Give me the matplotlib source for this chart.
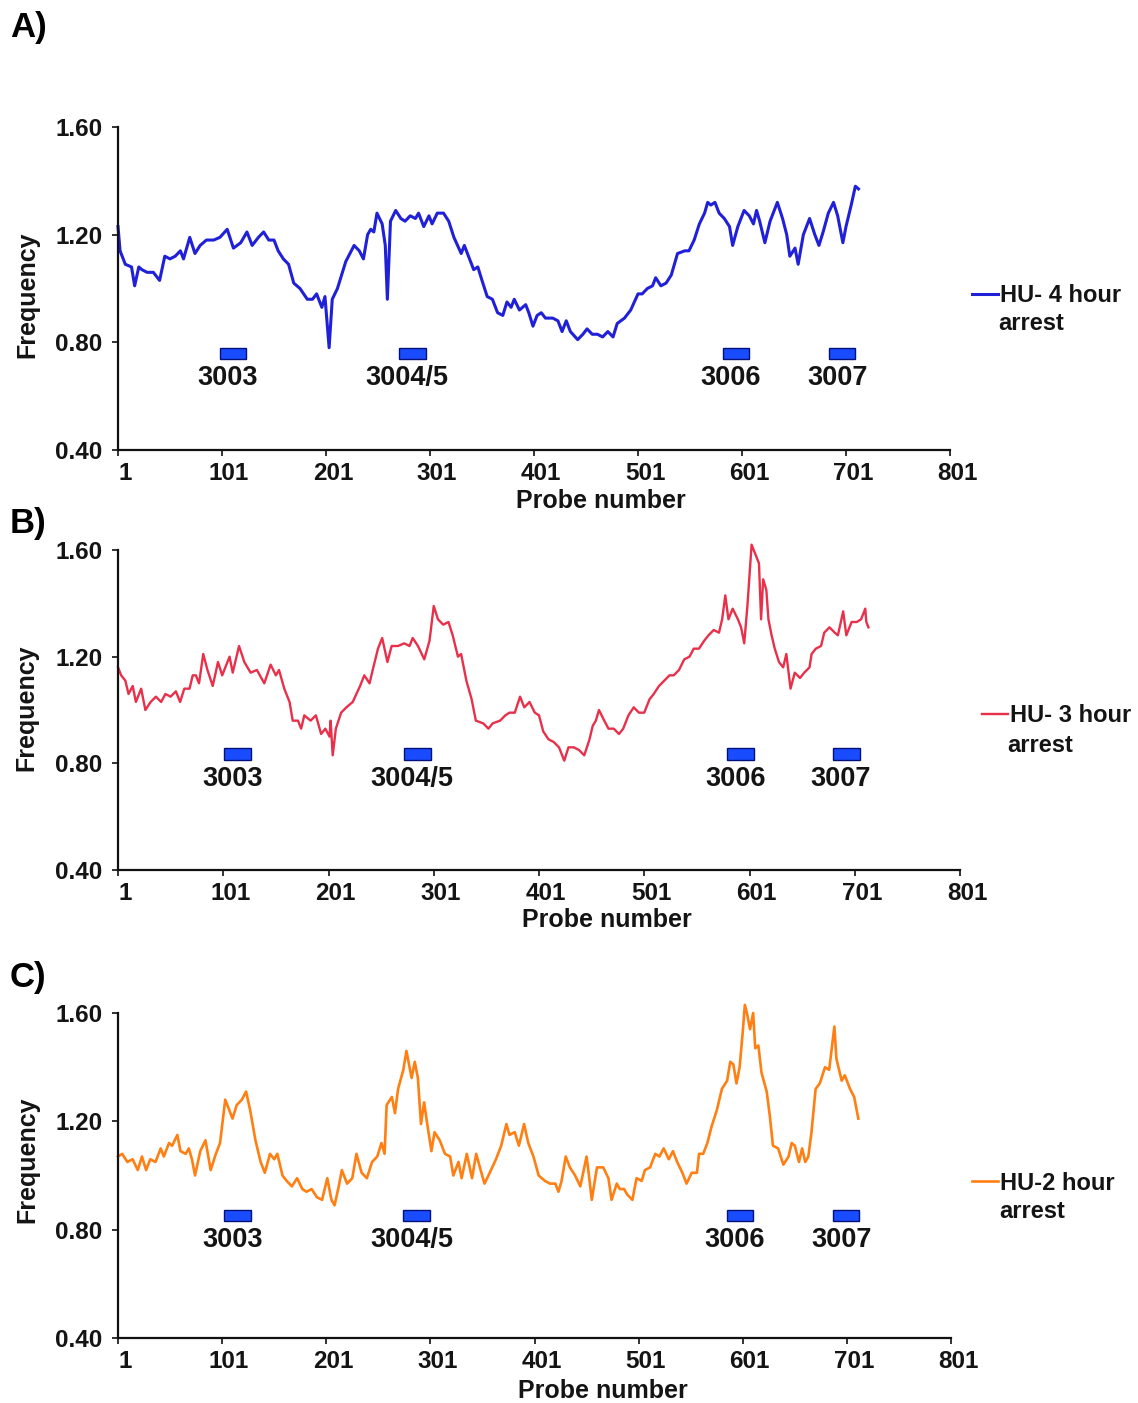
import numpy as np
import matplotlib.pyplot as plt
from matplotlib.transforms import ScaledTranslation

plt.rcParams['font.family'] = ['Liberation Sans', 'DejaVu Sans']
plt.rcParams['font.weight'] = 'bold'

# ---- data (probe number, frequency) ----
probe_4h = [1, 3, 8, 14, 17, 21, 24, 29, 35, 41, 46, 51, 56, 61, 64, 70, 75, 80, 86, 93,
            99, 106, 112, 119, 125, 130, 136, 141, 146, 151, 155, 160, 165, 170, 176, 183, 188, 192, 197, 200,
            204, 207, 212, 216, 220, 224, 228, 233, 237, 241, 244, 247, 250, 255, 258, 260, 263, 268, 273, 277,
            282, 287, 290, 295, 300, 303, 308, 314, 319, 324, 331, 334, 339, 343, 347, 351, 356, 361, 366, 371,
            375, 379, 382, 387, 393, 396, 400, 404, 408, 412, 419, 424, 428, 432, 436, 443, 448, 452, 457, 462,
            467, 472, 477, 481, 488, 494, 501, 505, 510, 515, 518, 523, 528, 533, 539, 546, 550, 555, 560, 565,
            568, 571, 575, 579, 584, 589, 592, 597, 603, 608, 612, 615, 618, 623, 628, 635, 640, 644, 647, 652,
            655, 660, 666, 671, 675, 679, 684, 689, 693, 698, 701, 706, 710, 713]
freq_4h = [1.23, 1.14, 1.09, 1.08, 1.01, 1.08, 1.07, 1.06, 1.06, 1.03, 1.12, 1.11, 1.12, 1.14, 1.11, 1.19, 1.13, 1.16, 1.18, 1.18,
           1.19, 1.22, 1.15, 1.17, 1.21, 1.16, 1.19, 1.21, 1.18, 1.18, 1.14, 1.11, 1.09, 1.02, 1.00, 0.96, 0.96, 0.98, 0.93, 0.97,
           0.78, 0.96, 1.00, 1.05, 1.10, 1.13, 1.16, 1.14, 1.11, 1.20, 1.22, 1.21, 1.28, 1.24, 1.16, 0.96, 1.25, 1.29, 1.26, 1.25,
           1.27, 1.26, 1.28, 1.23, 1.27, 1.24, 1.28, 1.28, 1.25, 1.19, 1.13, 1.16, 1.11, 1.07, 1.08, 1.03, 0.97, 0.96, 0.91, 0.90,
           0.95, 0.93, 0.96, 0.92, 0.94, 0.91, 0.86, 0.90, 0.91, 0.89, 0.89, 0.88, 0.84, 0.88, 0.84, 0.81, 0.83, 0.85, 0.83, 0.83,
           0.82, 0.84, 0.82, 0.87, 0.89, 0.92, 0.98, 0.98, 1.00, 1.01, 1.04, 1.01, 1.02, 1.05, 1.13, 1.14, 1.14, 1.18, 1.24, 1.28,
           1.32, 1.31, 1.32, 1.28, 1.26, 1.23, 1.16, 1.23, 1.29, 1.27, 1.24, 1.29, 1.25, 1.17, 1.25, 1.32, 1.26, 1.20, 1.12, 1.15,
           1.09, 1.20, 1.26, 1.20, 1.16, 1.21, 1.28, 1.32, 1.27, 1.17, 1.23, 1.31, 1.38, 1.37]

probe_3h = [1, 4, 8, 11, 15, 18, 23, 27, 32, 37, 42, 46, 51, 56, 60, 64, 69, 72, 75, 78,
            82, 86, 91, 96, 100, 107, 110, 116, 121, 127, 133, 140, 146, 151, 154, 159, 164, 167, 172, 175,
            178, 184, 189, 194, 198, 202, 203, 205, 208, 213, 218, 224, 231, 235, 240, 243, 248, 252, 257, 261,
            267, 273, 278, 281, 286, 292, 297, 301, 305, 310, 315, 319, 324, 327, 332, 337, 341, 348, 353, 357,
            364, 369, 373, 378, 383, 387, 392, 397, 401, 405, 410, 415, 420, 425, 429, 434, 439, 444, 449, 452,
            455, 458, 463, 467, 472, 477, 481, 486, 491, 496, 501, 506, 510, 515, 520, 525, 529, 534, 539, 544,
            548, 553, 558, 562, 567, 572, 575, 578, 581, 585, 590, 593, 596, 599, 603, 606, 610, 612, 614, 617,
            619, 622, 625, 629, 633, 636, 640, 644, 649, 653, 658, 660, 664, 669, 672, 677, 682, 685, 690, 693,
            698, 703, 707, 711, 712, 714]
freq_3h = [1.16, 1.13, 1.11, 1.06, 1.09, 1.03, 1.08, 1.00, 1.03, 1.05, 1.03, 1.06, 1.05, 1.07, 1.03, 1.08, 1.08, 1.13, 1.13, 1.10,
           1.21, 1.15, 1.09, 1.18, 1.13, 1.20, 1.14, 1.24, 1.18, 1.14, 1.15, 1.10, 1.17, 1.13, 1.15, 1.08, 1.03, 0.96, 0.96, 0.93,
           0.98, 0.96, 0.98, 0.91, 0.93, 0.90, 0.96, 0.83, 0.93, 0.99, 1.01, 1.03, 1.09, 1.13, 1.10, 1.15, 1.23, 1.27, 1.18, 1.24,
           1.24, 1.25, 1.24, 1.27, 1.24, 1.19, 1.26, 1.39, 1.34, 1.32, 1.33, 1.28, 1.20, 1.21, 1.11, 1.04, 0.96, 0.95, 0.93, 0.95,
           0.96, 0.98, 0.99, 0.99, 1.05, 1.01, 1.03, 0.99, 0.98, 0.92, 0.89, 0.88, 0.86, 0.81, 0.86, 0.86, 0.85, 0.83, 0.89, 0.94,
           0.96, 1.00, 0.96, 0.93, 0.93, 0.91, 0.93, 0.98, 1.01, 0.99, 0.99, 1.04, 1.06, 1.09, 1.11, 1.13, 1.13, 1.15, 1.19, 1.20,
           1.23, 1.23, 1.26, 1.28, 1.30, 1.29, 1.34, 1.43, 1.34, 1.38, 1.34, 1.31, 1.25, 1.39, 1.62, 1.59, 1.55, 1.34, 1.49, 1.45,
           1.34, 1.28, 1.23, 1.18, 1.16, 1.21, 1.08, 1.14, 1.12, 1.14, 1.16, 1.21, 1.23, 1.24, 1.29, 1.31, 1.29, 1.28, 1.37, 1.28,
           1.33, 1.33, 1.34, 1.38, 1.33, 1.31]

probe_2h = [1, 5, 10, 15, 20, 24, 28, 32, 37, 42, 45, 50, 53, 58, 61, 66, 69, 72, 75, 80,
            85, 90, 95, 99, 104, 107, 111, 115, 120, 124, 128, 133, 138, 142, 147, 151, 154, 159, 163, 168,
            173, 178, 182, 187, 192, 197, 202, 206, 209, 213, 216, 221, 226, 230, 235, 240, 245, 250, 254, 257,
            259, 264, 267, 270, 275, 278, 283, 286, 289, 292, 295, 298, 302, 305, 310, 315, 320, 323, 328, 331,
            336, 341, 345, 350, 353, 358, 364, 369, 374, 377, 382, 386, 391, 395, 400, 405, 411, 416, 421, 424,
            427, 431, 435, 440, 445, 451, 453, 456, 461, 467, 472, 475, 480, 483, 487, 490, 495, 499, 504, 507,
            512, 517, 521, 525, 530, 534, 538, 543, 547, 552, 557, 559, 563, 567, 571, 576, 581, 586, 589, 592,
            595, 598, 601, 603, 605, 608, 611, 613, 616, 619, 624, 627, 630, 635, 640, 645, 648, 651, 655, 658,
            661, 664, 667, 671, 675, 680, 684, 689, 691, 696, 699, 704, 708, 712]
freq_2h = [1.07, 1.08, 1.05, 1.06, 1.02, 1.07, 1.02, 1.06, 1.05, 1.10, 1.07, 1.12, 1.11, 1.15, 1.09, 1.08, 1.10, 1.06, 1.00, 1.09,
           1.13, 1.02, 1.08, 1.12, 1.28, 1.25, 1.21, 1.26, 1.28, 1.31, 1.24, 1.13, 1.05, 1.01, 1.08, 1.06, 1.08, 1.00, 0.98, 0.96,
           0.99, 0.95, 0.94, 0.95, 0.92, 0.91, 0.99, 0.91, 0.89, 0.96, 1.02, 0.97, 0.99, 1.08, 1.01, 0.99, 1.05, 1.07, 1.12, 1.08,
           1.26, 1.29, 1.23, 1.32, 1.39, 1.46, 1.36, 1.42, 1.36, 1.19, 1.27, 1.19, 1.09, 1.16, 1.13, 1.08, 1.07, 1.00, 1.05, 0.99,
           1.08, 0.99, 1.08, 1.01, 0.97, 1.01, 1.06, 1.11, 1.19, 1.15, 1.16, 1.11, 1.19, 1.12, 1.07, 1.00, 0.98, 0.97, 0.97, 0.94,
           0.98, 1.07, 1.03, 1.00, 0.96, 1.07, 1.01, 0.91, 1.03, 1.03, 0.99, 0.91, 0.97, 0.95, 0.95, 0.93, 0.91, 0.99, 0.98, 1.02,
           1.03, 1.08, 1.07, 1.10, 1.06, 1.09, 1.05, 1.01, 0.97, 1.01, 1.01, 1.08, 1.08, 1.12, 1.18, 1.24, 1.32, 1.35, 1.42, 1.41,
           1.34, 1.40, 1.53, 1.63, 1.60, 1.54, 1.60, 1.47, 1.48, 1.38, 1.31, 1.22, 1.11, 1.10, 1.04, 1.07, 1.12, 1.11, 1.05, 1.10,
           1.05, 1.07, 1.16, 1.32, 1.34, 1.40, 1.39, 1.55, 1.43, 1.35, 1.37, 1.32, 1.29, 1.21]

# origin locations (probe ranges) marked under the traces
gene_names = ['3003', '3004/5', '3006', '3007']
gene_start_4h = [99, 271, 583, 685]
gene_end_4h = [124, 297, 608, 710]
gene_start_3h = [102, 273, 580, 680]
gene_end_3h = [127, 298, 605, 706]
gene_start_2h = [103, 275, 586, 688]
gene_end_2h = [129, 301, 611, 713]

series_names = ['HU- 4 hour', 'HU- 3 hour', 'HU-2 hour']
xticks = [1, 101, 201, 301, 401, 501, 601, 701, 801]
yticks = [0.40, 0.80, 1.20, 1.60]

W, H = 1138, 1403
fig = plt.figure(figsize=(W / 100, H / 100), dpi=100)
ink = '#141414'

# pixel layout of each panel: axes box, line style, marker rows, legend spot
panels = [
    dict(letter='A)', letter_y=28, box=(118, 127, 950, 450), x=probe_4h, y=freq_4h,
         color='#2020d8', lw=2.2, start=gene_start_4h, end=gene_end_4h,
         bar=(0.738, 0.780), lab_y=0.666, name=series_names[0],
         leg=(972, 296), arrest=(998, 323), xlab=(0.58, -0.12), ylab=(-0.094, 0.48)),
    dict(letter='B)', letter_y=524, box=(118, 550, 960, 870), x=probe_3h, y=freq_3h,
         color='#e8304a', lw=1.7, start=gene_start_3h, end=gene_end_3h,
         bar=(0.812, 0.856), lab_y=0.74, name=series_names[1],
         leg=(982, 716), arrest=(1007, 745), xlab=(0.581, -0.119), ylab=(-0.094, 0.506)),
    dict(letter='C)', letter_y=978, box=(118, 1013, 951, 1338), x=probe_2h, y=freq_2h,
         color='#ff7f12', lw=1.9, start=gene_start_2h, end=gene_end_2h,
         bar=(0.831, 0.874), lab_y=0.761, name=series_names[2],
         leg=(972, 1183), arrest=(999, 1212), xlab=(0.582, -0.126), ylab=(-0.094, 0.548)),
]

for p in panels:
    x0, y0, x1, y1 = p['box']
    ax = fig.add_axes([x0 / W, 1 - y1 / H, (x1 - x0) / W, (y1 - y0) / H])
    line, = ax.plot(p['x'], p['y'], color=p['color'], lw=p['lw'],
                    solid_joinstyle='round', clip_on=False)

    # blue origin boxes and their names
    starts = np.array(p['start'])
    ends = np.array(p['end'])
    lo, hi = p['bar']
    ax.bar((starts + ends) / 2, hi - lo, width=ends - starts, bottom=lo,
           color='#1a4cff', edgecolor='#00107a', linewidth=1.0)
    for name, s, e in zip(gene_names, starts, ends):
        ax.text((s + e) / 2 - 5, p['lab_y'], name, ha='center', va='center',
                fontsize=19.5, fontweight='bold', color=ink)

    ax.set_xlim(1, 801)
    ax.set_ylim(0.40, 1.60)
    ax.set_xticks(xticks)
    ax.set_yticks(yticks)
    ax.set_yticklabels([f'{v:.2f}' for v in yticks])
    for side in ['top', 'right']:
        ax.spines[side].set_visible(False)
    for side in ['left', 'bottom']:
        ax.spines[side].set_linewidth(1.6)
        ax.spines[side].set_color('#111111')
    ax.tick_params(axis='both', length=4, width=1.2, colors='#111111',
                   labelsize=17.5, labelcolor=ink)
    ax.tick_params(axis='x', pad=5)
    ax.tick_params(axis='y', pad=7)
    shift = ScaledTranslation(7 / 100, 0, fig.dpi_scale_trans)
    for lab in ax.get_xticklabels():
        lab.set_transform(lab.get_transform() + shift)
        lab.set_fontweight('bold')
    for lab in ax.get_yticklabels():
        lab.set_fontweight('bold')

    ax.set_xlabel('Probe number', fontsize=18, fontweight='bold', color=ink)
    ax.xaxis.set_label_coords(*p['xlab'])
    ax.set_ylabel('Frequency', fontsize=18, fontweight='bold', color=ink)
    ax.yaxis.set_label_coords(*p['ylab'])

    lx, ly = p['leg']
    ax.legend([line], [p['name']], loc='center left',
              bbox_to_anchor=(lx / W, 1 - ly / H), bbox_transform=fig.transFigure,
              frameon=False, handlelength=1.1, handletextpad=0.1, borderpad=0,
              borderaxespad=0, prop={'size': 17, 'weight': 'bold'}, labelcolor=ink)
    ax_, ay_ = p['arrest']
    fig.text(ax_ / W, 1 - ay_ / H, 'arrest', ha='left', va='center',
             fontsize=17, fontweight='bold', color=ink)

    fig.text(10 / W, 1 - p['letter_y'] / H, p['letter'], ha='left', va='center',
             fontsize=25, fontweight='bold', color='#000000')

fig.savefig('out.png', dpi=100, facecolor='white')
